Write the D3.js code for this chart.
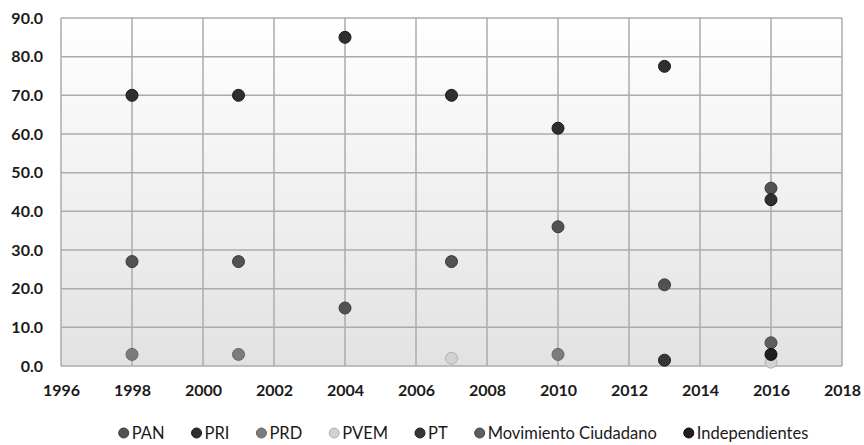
<!DOCTYPE html>
<html>
<head>
<meta charset="utf-8">
<script src="https://cdn.jsdelivr.net/npm/d3@7"></script>
<style>
  body { margin: 0; background: #fff; }
  text { font-family: Lato, "Open Sans", sans-serif; fill: #1a1a1a; }
</style>
</head>
<body>
<div id="chart"></div>
<script>
// election years and vote shares per party (%)
var years = [1998, 2001, 2004, 2007, 2010, 2013, 2016];
var parties = ["PAN", "PRI", "PRD", "PVEM", "PT", "Movimiento Ciudadano", "Independientes"];
var pan   = [27, 27, 15, 27, 36, 21, 46];
var pri   = [70, 70, 85, 70, 61.5, 77.5, 43];
var prd   = [3, 3, null, null, 3, null, null];
var pvem  = [null, null, null, 2, null, null, 1];
var pt    = [null, null, null, null, null, 1.5, null];
var mc    = [null, null, null, null, null, null, 6];
var indep = [null, null, null, null, null, null, 3];
var yTicks = [0, 10, 20, 30, 40, 50, 60, 70, 80, 90];
var xTicks = [1996, 1998, 2000, 2002, 2004, 2006, 2008, 2010, 2012, 2014, 2016, 2018];

var seriesValues = [pan, pri, prd, pvem, pt, mc, indep];
var colors = ["#525252", "#2f2f2f", "#7c7c7c", "#d2d2d2", "#363636", "#5e5e5e", "#1f1f1f"];
var strokes = ["#3a3a3a", "#1a1a1a", "#666", "#b0b0b0", "#1f1f1f", "#444", "#0a0a0a"];

var width = 864, height = 445;
var margin = {top: 18, right: 22, bottom: 79, left: 61};

var svg = d3.select("#chart").append("svg")
    .attr("width", width)
    .attr("height", height);

var defs = svg.append("defs");
var grad = defs.append("linearGradient")
    .attr("id", "bg").attr("x1", 0).attr("y1", 0).attr("x2", 0).attr("y2", 1);
grad.append("stop").attr("offset", "0%").attr("stop-color", "#ffffff");
grad.append("stop").attr("offset", "100%").attr("stop-color", "#e2e2e2");

var x = d3.scaleLinear().domain([1996, 2018]).range([margin.left, width - margin.right]);
var y = d3.scaleLinear().domain([0, 90]).range([height - margin.bottom, margin.top]);

svg.append("rect")
    .attr("x", x(1996)).attr("y", y(90))
    .attr("width", x(2018) - x(1996))
    .attr("height", y(0) - y(90))
    .attr("fill", "url(#bg)");

// grid
svg.append("g").selectAll("line").data(yTicks).join("line")
    .attr("x1", x(1996)).attr("x2", x(2018))
    .attr("y1", function(d){ return y(d); })
    .attr("y2", function(d){ return y(d); })
    .attr("stroke", "#ababab").attr("stroke-width", 1.5);
svg.append("g").selectAll("line").data(xTicks).join("line")
    .attr("x1", function(d){ return x(d); })
    .attr("x2", function(d){ return x(d); })
    .attr("y1", y(0)).attr("y2", y(90))
    .attr("stroke", "#ababab").attr("stroke-width", 1.5);

// axes
var yAxis = svg.append("g")
    .attr("transform", "translate(" + (x(1996) - 18) + ",0)")
    .call(d3.axisLeft(y).tickValues(yTicks).tickFormat(d3.format(".1f")).tickSize(0));
yAxis.select(".domain").remove();
yAxis.selectAll("text")
    .attr("x", 0)
    .style("font-size", "16px").style("font-weight", "700").attr("fill", "#1a1a1a");

var xAxis = svg.append("g")
    .attr("transform", "translate(0," + y(0) + ")")
    .call(d3.axisBottom(x).tickValues(xTicks).tickFormat(d3.format("d")).tickSize(0));
xAxis.select(".domain").remove();
xAxis.selectAll("text")
    .attr("y", 19)
    .style("font-size", "16px").style("font-weight", "700").attr("fill", "#1a1a1a");

// points
seriesValues.forEach(function(vals, si){
    var pts = years.map(function(yr, i){ return {year: yr, v: vals[i]}; })
        .filter(function(d){ return d.v != null; });
    svg.append("g").selectAll("circle").data(pts).join("circle")
        .attr("cx", function(d){ return x(d.year); })
        .attr("cy", function(d){ return y(d.v); })
        .attr("r", 6)
        .attr("fill", colors[si])
        .attr("stroke", strokes[si])
        .attr("stroke-width", 1);
});

// legend
var legend = svg.append("g").attr("transform", "translate(0,433)");
var items = legend.selectAll("g").data(parties).join("g");
items.append("circle").attr("r", 5).attr("cy", 0)
    .attr("fill", function(d, i){ return colors[i]; })
    .attr("stroke", function(d, i){ return strokes[i]; });
items.append("text").attr("x", 8).attr("dy", "0.36em")
    .style("font-size", "16.5px")
    .text(function(d){ return d; });

var gaps = [], total = 0;
items.each(function(){
    var w = 8 + d3.select(this).select("text").node().getComputedTextLength();
    gaps.push(w);
    total += w;
});
var spacing = 32;
total += spacing * (parties.length - 1);
var cursor = 466 - total / 2;
items.attr("transform", function(d, i){
    var tx = cursor;
    cursor += gaps[i] + spacing;
    return "translate(" + tx + ",0)";
});
</script>
</body>
</html>
